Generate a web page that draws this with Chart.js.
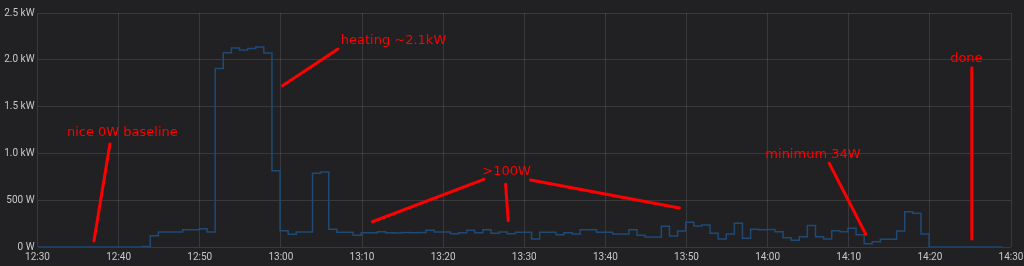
<!DOCTYPE html>
<html>
<head>
<meta charset="utf-8">
<script src="https://cdn.jsdelivr.net/npm/chart.js@4/dist/chart.umd.min.js"></script>
<style>
  html, body { margin: 0; padding: 0; background: #212124; }
  #wrap { width: 1024px; height: 266px; }
</style>
</head>
<body>
<div id="wrap"><canvas id="powerChart"></canvas></div>
<script>
// minutes after 12:30, one sample per minute (each step starts a few seconds before the minute)
const startMinutes = 12 * 60 + 30;
const sampleOffset = -0.1;
const watts = [
  0, 0, 0, 0, 0, 0, 0, 0, 0, 0, 0, 0, 0, 5,
  120, 160, 160, 160, 185, 185, 195, 160,
  1908, 2075, 2125, 2104, 2120, 2136, 2072, 815,
  174, 135, 160, 160, 787, 800, 189,
  157, 157, 125, 153, 153, 163, 153, 150, 155, 152, 155, 178, 160, 160,
  142, 153, 178, 153, 185, 146, 160, 142, 157, 157,
  85, 157, 157, 131, 153, 139, 185, 185, 157, 157,
  139, 139, 185, 125, 107, 107, 221, 117, 171, 264,
  224, 235, 146, 85, 139, 253, 93, 189, 185, 188,
  163, 100, 71, 110, 231, 110, 85, 174, 163, 199,
  131, 34, 57, 82, 82, 171, 377, 360, 139,
  0, 0, 0, 0, 0, 0, 0, 0, 0, 0
];
const yTicks = [0, 500, 1000, 1500, 2000, 2500];

// hand-drawn notes, placed in data units (minutes, watts)
const noteTexts = ["nice 0W baseline", "heating ~2.1kW", ">100W", "minimum 34W", "done"];
const noteAnchors = [[3.63, 1223], [37.38, 2200], [54.83, 804], [89.72, 983], [112.5, 2015]];
const noteStrokes = [
  [[8.93, 1100], [6.96, 64]],
  [[37.04, 2115], [30.2, 1723]],
  [[55.02, 723], [41.28, 270]],
  [[57.7, 670], [58.03, 281]],
  [[60.78, 716], [79.13, 417]],
  [[97.6, 894], [102.1, 136]],
  [[115.17, 1915], [115.17, 85]]
];

const points = watts.map((w, i) => ({ x: i === 0 ? 0 : i + sampleOffset, y: w }));

function clockLabel(v) {
  const t = startMinutes + v;
  const h = Math.floor(t / 60);
  const m = t % 60;
  return h + ":" + String(m).padStart(2, "0");
}

function powerLabel(v) {
  return v < 1000 ? v + " W" : (v / 1000).toFixed(1) + " kW";
}

const notesPlugin = {
  id: "notes",
  afterDatasetsDraw(chart) {
    const { ctx, scales } = chart;
    const px = (p) => [scales.x.getPixelForValue(p[0]), scales.y.getPixelForValue(p[1])];
    ctx.save();
    ctx.strokeStyle = "#ff0000";
    ctx.lineWidth = 3;
    ctx.lineCap = "round";
    noteStrokes.forEach(([a, b]) => {
      const pa = px(a);
      const pb = px(b);
      ctx.beginPath();
      ctx.moveTo(pa[0], pa[1]);
      ctx.lineTo(pb[0], pb[1]);
      ctx.stroke();
    });
    ctx.fillStyle = "#ff0000";
    ctx.font = '13px "DejaVu Sans"';
    ctx.textAlign = "left";
    ctx.textBaseline = "middle";
    noteTexts.forEach((text, i) => {
      const p = px(noteAnchors[i]);
      ctx.fillText(text, p[0], p[1]);
    });
    ctx.restore();
  },
};

new Chart(document.getElementById("powerChart"), {
  type: "line",
  data: {
    datasets: [
      {
        label: "Power",
        data: points,
        stepped: true,
        borderColor: "#1e4a75",
        borderWidth: 1.5,
        pointRadius: 0,
        fill: false,
      },
    ],
  },
  options: {
    responsive: true,
    maintainAspectRatio: false,
    animation: false,
    layout: { padding: { top: 13, right: 0, left: 0, bottom: 0 } },
    plugins: {
      legend: { display: false },
      tooltip: { enabled: false },
    },
    scales: {
      x: {
        type: "linear",
        min: 0,
        max: 120,
        border: { display: false },
        grid: { color: "rgba(255,255,255,0.11)", drawTicks: false },
        ticks: {
          stepSize: 10,
          padding: 4,
          color: "#c8c8c8",
          font: { family: "Roboto", size: 10 },
          maxRotation: 0,
          callback: clockLabel,
        },
        afterFit(scale) {
          scale.height = 19;
          scale.paddingRight = 13;
        },
      },
      y: {
        min: 0,
        max: 2500,
        border: { display: false },
        grid: { color: "rgba(255,255,255,0.11)", drawTicks: false },
        afterBuildTicks(scale) { scale.ticks = yTicks.map((v) => ({ value: v })); },
        ticks: {
          padding: 3,
          color: "#c8c8c8",
          font: { family: "Roboto", size: 10 },
          callback: powerLabel,
        },
        afterFit(scale) {
          scale.width = 37.5;
          scale.paddingTop = 0;
        },
      },
    },
  },
  plugins: [notesPlugin],
});
</script>
</body>
</html>
